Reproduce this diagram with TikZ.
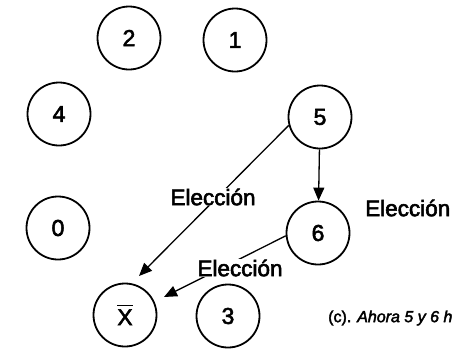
\documentclass[tikz,border=0pt]{standalone}
\usepackage{fontspec}
\setmainfont{Liberation Sans}
\newfontfamily\heavyfont[FakeBold=2.5]{Liberation Sans}
\usetikzlibrary{arrows.meta}
\newcommand\xbarsym{{\setbox0\hbox{X}\rlap{\rule[\dimexpr\ht0+3pt\relax]{\wd0}{1.5pt}}X}}
\tikzset{
  circ/.style={draw, circle, line width=1.8pt, minimum size=63pt, inner sep=0pt, font=\heavyfont\fontsize{23}{27}\selectfont},
  conn/.style={line width=1.3pt, -{Triangle[length=13pt,width=11pt]}},
  lbl/.style={fill=white, inner sep=1pt, font=\heavyfont\fontsize{22.5}{26}\selectfont},
}
\begin{document}
\begin{tikzpicture}[x=1pt,y=-1pt]
\clip (0,0) rectangle (453,349);
\fill[white] (0,0) rectangle (453,349);
\node[circ] (n2) at (129,38) {2};
\node[circ] (n1) at (235,40) {1};
\node[circ] (n4) at (59,114) {4};
\node[circ] (n5) at (320,117) {5};
\node[circ] (n0) at (58,228) {0};
\node[circ] (n6) at (318,233) {6};
\node[circ] (nX) at (125,315) {\xbarsym};
\node[circ] (n3) at (228,316) {3};
\coordinate (t1) at (139,276);
\coordinate (t2) at (164,297);
\draw[conn] (n5) -- (n6);
\draw[conn] (n5.195) -- (t1);
\draw[conn] (n6.185) -- (t2);
\node[lbl] (l1) at (213,197) {Elección};
\node[lbl] (l2) at (240,268) {Elección};
\node[lbl, anchor=west] (l3) at (364,208) {Elección};
\node[anchor=west, inner sep=0pt, font=\heavyfont\fontsize{16}{20}\selectfont] (cap) at (328,318) {(c). \textit{Ahora 5 y 6 h}};
\end{tikzpicture}
\end{document}
